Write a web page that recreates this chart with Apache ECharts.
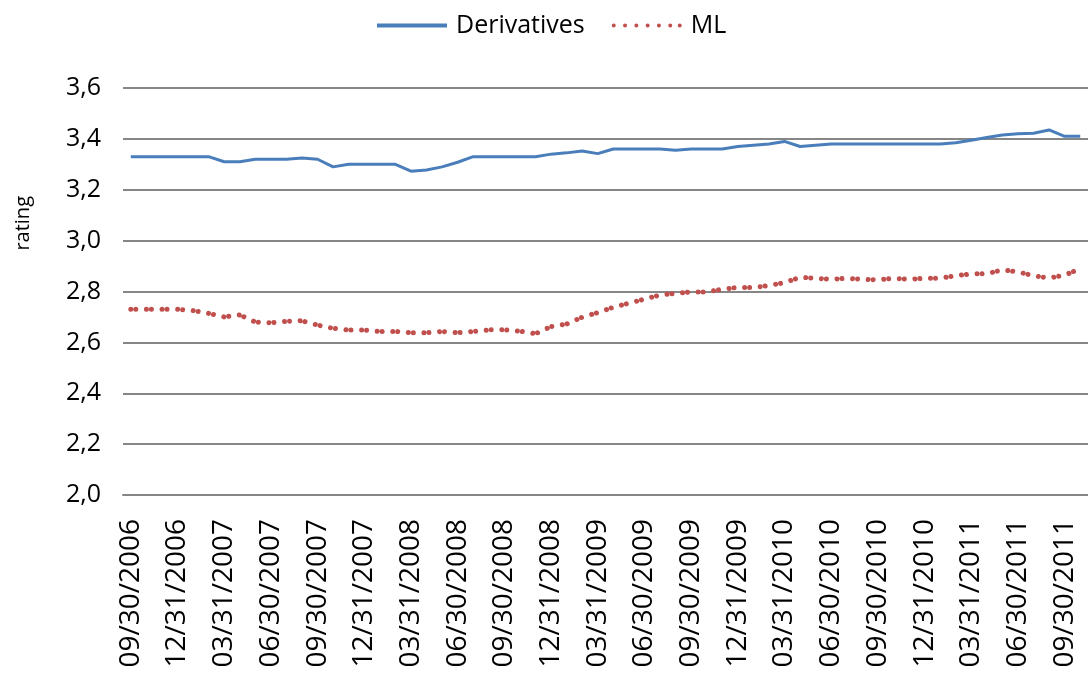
<!DOCTYPE html>
<html>
<head>
<meta charset="utf-8">
<script src="https://cdn.jsdelivr.net/npm/echarts@6/dist/echarts.min.js"></script>
<style>
html,body{margin:0;padding:0;background:#fff;}
#chart{width:1088px;height:677px;}
</style>
</head>
<body>
<div id="chart"></div>
<script>
var categories = [
  "09/30/2006","10/31/2006","11/30/2006","12/31/2006",
  "01/31/2007","02/28/2007","03/31/2007","04/30/2007","05/31/2007","06/30/2007","07/31/2007","08/31/2007","09/30/2007","10/31/2007","11/30/2007","12/31/2007",
  "01/31/2008","02/29/2008","03/31/2008","04/30/2008","05/31/2008","06/30/2008","07/31/2008","08/31/2008","09/30/2008","10/31/2008","11/30/2008","12/31/2008",
  "01/31/2009","02/28/2009","03/31/2009","04/30/2009","05/31/2009","06/30/2009","07/31/2009","08/31/2009","09/30/2009","10/31/2009","11/30/2009","12/31/2009",
  "01/31/2010","02/28/2010","03/31/2010","04/30/2010","05/31/2010","06/30/2010","07/31/2010","08/31/2010","09/30/2010","10/31/2010","11/30/2010","12/31/2010",
  "01/31/2011","02/28/2011","03/31/2011","04/30/2011","05/31/2011","06/30/2011","07/31/2011","08/31/2011","09/30/2011","10/31/2011"
];
var derivatives = [
  3.33,3.33,3.33,3.33,3.33,3.33,3.31,3.31,3.32,3.32,
  3.32,3.325,3.32,3.29,3.30,3.30,3.30,3.30,3.273,3.278,
  3.29,3.308,3.33,3.33,3.33,3.33,3.33,3.34,3.345,3.352,
  3.342,3.36,3.36,3.36,3.36,3.355,3.36,3.36,3.36,3.37,
  3.375,3.38,3.39,3.37,3.375,3.38,3.38,3.38,3.38,3.38,
  3.38,3.38,3.38,3.385,3.395,3.405,3.415,3.42,3.422,3.435,
  3.41,3.41
];
var ml = [
  2.73,2.73,2.73,2.73,2.725,2.714,2.70,2.708,2.68,2.677,
  2.683,2.685,2.668,2.655,2.649,2.649,2.643,2.643,2.638,2.638,
  2.643,2.638,2.643,2.649,2.65,2.644,2.634,2.662,2.672,2.699,
  2.717,2.738,2.754,2.77,2.786,2.793,2.798,2.798,2.809,2.816,
  2.816,2.823,2.835,2.856,2.852,2.848,2.852,2.848,2.846,2.852,
  2.848,2.852,2.852,2.862,2.869,2.87,2.885,2.877,2.862,2.853,
  2.864,2.89
];
var seriesNames = ["Derivatives","ML"];
var yAxisName = "rating";

var FONT = "Open Sans";
var lineIcon = 'path://M0,0L70,0L70,4L0,4Z';
var dotIcon = 'path://' + [2, 13.3, 24.6, 35.9, 47.2, 58.5, 68].map(function (cx) {
  return 'M' + (cx - 2) + ',2a2,2 0 1,0 4,0a2,2 0 1,0 -4,0Z';
}).join('');

var chart = echarts.init(document.getElementById('chart'), null, {renderer:'canvas'});
chart.setOption({
  animation: false,
  backgroundColor: '#ffffff',
  legend: {
    top: 8,
    left: 372,
    itemWidth: 70,
    itemHeight: 4,
    itemGap: 27,
    textStyle: {fontFamily: FONT, fontSize: 25, color: '#000', padding: [0,0,0,4]},
    data: [
      {name: seriesNames[0], icon: lineIcon},
      {name: seriesNames[1], icon: dotIcon}
    ]
  },
  graphic: [{
    type: 'text',
    left: 13,
    top: 196,
    rotation: Math.PI / 2,
    style: {text: yAxisName, font: '20px "Open Sans"', fill: '#000'}
  }],
  grid: {left: 123, top: 88, height: 407, width: 971},
  xAxis: {
    type: 'category',
    data: categories,
    boundaryGap: true,
    axisLine: {show: true, lineStyle: {color: '#868686', width: 2}},
    axisTick: {show: false},
    axisLabel: {
      interval: 2,
      rotate: 90,
      margin: 24,
      fontFamily: FONT,
      fontSize: 28,
      color: '#000'
    },
    splitLine: {show: false}
  },
  yAxis: {
    type: 'value',
    min: 2.0,
    max: 3.6,
    interval: 0.2,
    axisLine: {show: false},
    axisTick: {show: false},
    axisLabel: {
      margin: 22,
      fontFamily: FONT,
      fontSize: 25,
      color: '#000',
      formatter: function (v) { return v.toFixed(1).replace('.', ','); }
    },
    splitLine: {show: true, lineStyle: {color: '#868686', width: 2}}
  },
  series: [
    {
      name: seriesNames[0],
      type: 'line',
      data: derivatives,
      symbol: 'none',
      showSymbol: false,
      color: '#4a7ebb',
      itemStyle: {color: '#4a7ebb'},
      lineStyle: {color: '#4a7ebb', width: 3},
      z: 3
    },
    {
      name: seriesNames[1],
      type: 'line',
      data: ml,
      symbol: 'none',
      showSymbol: false,
      color: '#c0504d',
      itemStyle: {color: '#c0504d'},
      lineStyle: {color: '#c0504d', width: 5, type: [0.01, 5, 0.01, 10.6], cap: 'round'},
      z: 3
    }
  ]
});
</script>
</body>
</html>
